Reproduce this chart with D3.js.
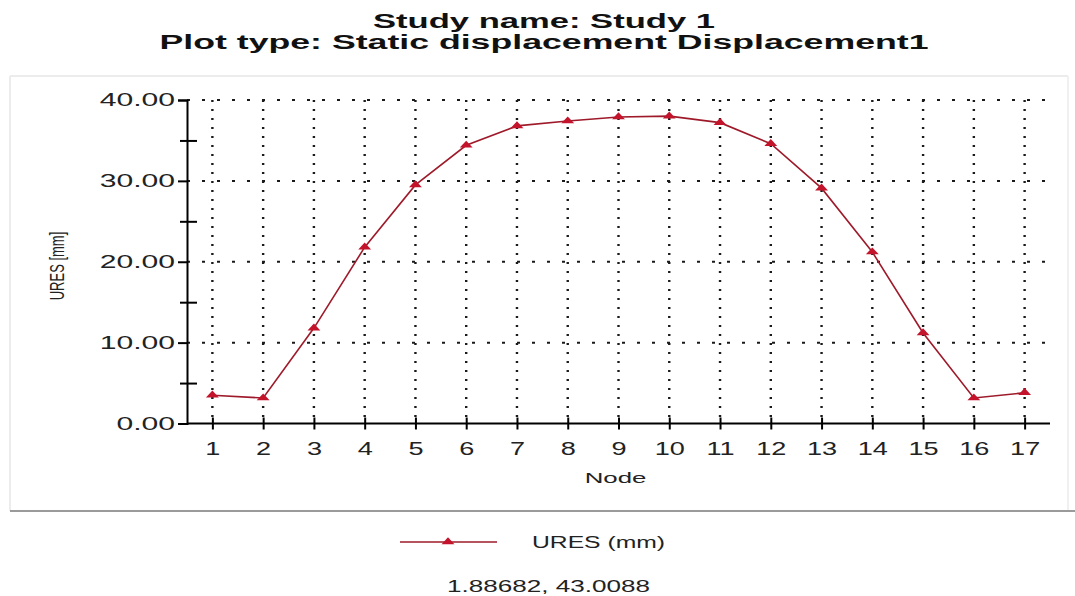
<!DOCTYPE html>
<html>
<head>
<meta charset="utf-8">
<script src="https://cdn.jsdelivr.net/npm/d3@7"></script>
<style>
  html, body { margin: 0; padding: 0; background: #fff; }
  svg { display: block; font-family: "Liberation Sans", Arial, sans-serif; }
</style>
</head>
<body>
<svg id="chart" width="1075" height="596"></svg>
<script>
// Resultant displacement per node
const nodes = [1, 2, 3, 4, 5, 6, 7, 8, 9, 10, 11, 12, 13, 14, 15, 16, 17];
const ures = [3.5, 3.15, 11.8, 21.8, 29.5, 34.4, 36.8, 37.4, 37.9, 38.0, 37.2, 34.6, 29.1, 21.2, 11.2, 3.15, 3.8];
const yMajorTicks = [0, 10, 20, 30, 40];
const yMinorTicks = [5, 15, 25, 35];
const titleLines = ["Study name: Study 1", "Plot type: Static displacement Displacement1"];
const seriesName = "URES (mm)";
const cursorReadout = "1.88682, 43.0088";

const SX = 1.72; // wide glyph look of the plot window
const svg = d3.select("#chart");

const margin = { left: 187, right: 1050, top: 100, bottom: 423.5 };
const x = d3.scaleLinear().domain([0.5, 17.5]).range([margin.left, margin.right]);
const y = d3.scaleLinear().domain([0, 40]).range([margin.bottom, margin.top]);

// panel frame
const frame = svg.append("g");
frame.append("line").attr("x1", 10).attr("x2", 1068).attr("y1", 76).attr("y2", 76)
  .attr("stroke", "#ececec").attr("stroke-width", 2);
frame.append("line").attr("x1", 10).attr("x2", 10).attr("y1", 76).attr("y2", 511)
  .attr("stroke", "#ececec").attr("stroke-width", 2);
frame.append("line").attr("x1", 1068).attr("x2", 1068).attr("y1", 76).attr("y2", 511)
  .attr("stroke", "#f0f0f0").attr("stroke-width", 2);
frame.append("line").attr("x1", 10).attr("x2", 1075).attr("y1", 511).attr("y2", 511)
  .attr("stroke", "#9a9a9a").attr("stroke-width", 2.2);

// title
svg.selectAll("text.title").data(titleLines).join("text")
  .attr("class", "title")
  .attr("x", 544)
  .attr("y", (d, i) => i === 0 ? 28 : 49)
  .attr("text-anchor", "middle")
  .attr("font-size", 20)
  .attr("font-weight", "bold")
  .attr("fill", "#111")
  .attr("textLength", (d, i) => i === 0 ? 342 : 769)
  .attr("lengthAdjust", "spacingAndGlyphs")
  .text(d => d);

// dotted grid
const grid = svg.append("g");
grid.selectAll("line.vg").data(nodes).join("line")
  .attr("class", "vg")
  .attr("x1", d => x(d)).attr("x2", d => x(d))
  .attr("y1", y(40)).attr("y2", y(0))
  .attr("stroke", "#1a1a1a").attr("stroke-width", 2.4)
  .attr("stroke-dasharray", "2,7");
grid.selectAll("line.hg").data(yMajorTicks.filter(v => v > 0)).join("line")
  .attr("class", "hg")
  .attr("x1", margin.left).attr("x2", margin.right)
  .attr("y1", d => y(d)).attr("y2", d => y(d))
  .attr("stroke", "#1a1a1a").attr("stroke-width", 2)
  .attr("stroke-dasharray", "3,12");

// y axis
const yAxis = svg.append("g")
  .attr("transform", `translate(${margin.left},0)`)
  .call(d3.axisLeft(y).tickValues(yMajorTicks).tickSize(9).tickFormat(d3.format(".2f")));
yAxis.call(g => g.select(".domain").attr("stroke", "#000").attr("stroke-width", 2));
yAxis.selectAll(".tick line").attr("stroke", "#000").attr("stroke-width", 2);
yAxis.selectAll(".tick text")
  .attr("font-size", 17.5)
  .attr("fill", "#222")
  .attr("x", -12 / SX)
  .attr("transform", `scale(${SX},1)`);

svg.append("g").attr("transform", `translate(${margin.left},0)`)
  .call(d3.axisLeft(y).tickValues(yMinorTicks).tickSize(7).tickFormat(""))
  .call(g => g.select(".domain").remove())
  .selectAll(".tick line").attr("stroke", "#000").attr("stroke-width", 2);
svg.append("g").attr("transform", `translate(${margin.left},0)`)
  .call(d3.axisLeft(y).tickValues(yMinorTicks).tickSize(-10).tickFormat(""))
  .call(g => g.select(".domain").remove())
  .selectAll(".tick line").attr("stroke", "#000").attr("stroke-width", 2);

// x axis
const xAxis = svg.append("g")
  .attr("transform", `translate(0,${margin.bottom})`)
  .call(d3.axisBottom(x).tickValues(nodes).tickSize(6).tickSizeOuter(0).tickFormat(d3.format("d")));
xAxis.call(g => g.select(".domain").attr("stroke", "#000").attr("stroke-width", 2)
  .attr("d", `M${margin.left},0H${margin.right}`));
xAxis.selectAll(".tick line").attr("stroke", "#000").attr("stroke-width", 2);
xAxis.selectAll(".tick text")
  .attr("font-size", 17.5)
  .attr("fill", "#222")
  .attr("y", 31.5)
  .attr("dy", 0)
  .attr("transform", `scale(${SX * 0.9},1)`);
svg.append("g").attr("transform", `translate(0,${margin.bottom})`)
  .call(d3.axisBottom(x).tickValues(nodes).tickSize(-6).tickFormat(""))
  .call(g => g.select(".domain").remove())
  .selectAll(".tick line").attr("stroke", "#000").attr("stroke-width", 2);

// axis titles
svg.append("g")
  .attr("transform", `translate(64,266) scale(1.6,1) rotate(-90)`)
  .append("text")
  .attr("text-anchor", "middle")
  .attr("font-size", 13)
  .attr("fill", "#222")
  .text("URES [mm]");
svg.append("g")
  .attr("transform", `translate(${(margin.left + margin.right) / 2 - 3},483) scale(${SX},1)`)
  .append("text")
  .attr("text-anchor", "middle")
  .attr("font-size", 15)
  .attr("fill", "#222")
  .text("Node");

// series line and markers
const lineColor = "#9e1a2a";
const markerColor = "#c3142c";
const pts = nodes.map((n, i) => [n, ures[i]]);
svg.append("path")
  .datum(pts)
  .attr("fill", "none")
  .attr("stroke", lineColor)
  .attr("stroke-width", 1.6)
  .attr("d", d3.line().x(d => x(d[0])).y(d => y(d[1])));

const tri = d3.symbol().type(d3.symbolTriangle).size(28);
svg.selectAll("path.mk").data(pts).join("path")
  .attr("class", "mk")
  .attr("transform", d => `translate(${x(d[0])},${y(d[1])}) scale(1.6,1)`)
  .attr("d", tri)
  .attr("fill", markerColor);

// legend
const lg = svg.append("g");
lg.append("line").attr("x1", 400).attr("x2", 497).attr("y1", 542).attr("y2", 542)
  .attr("stroke", lineColor).attr("stroke-width", 1.6);
lg.append("path").attr("transform", "translate(448,542) scale(1.6,1)").attr("d", tri).attr("fill", markerColor);
lg.append("text").attr("x", 532).attr("y", 548)
  .attr("font-size", 16).attr("fill", "#222")
  .attr("textLength", 133).attr("lengthAdjust", "spacingAndGlyphs")
  .text(seriesName);

// cursor readout
svg.append("text").attr("x", 447).attr("y", 592)
  .attr("font-size", 16.5).attr("fill", "#222")
  .attr("textLength", 203).attr("lengthAdjust", "spacingAndGlyphs")
  .text(cursorReadout);
</script>
</body>
</html>
